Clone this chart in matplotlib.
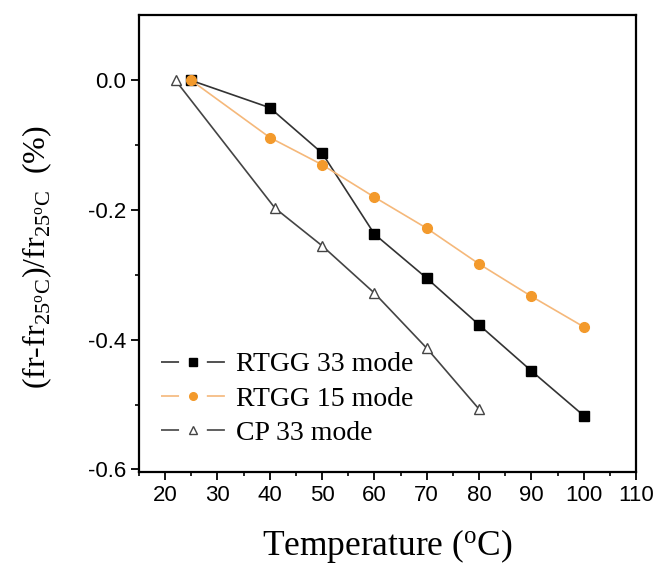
import numpy as np
import matplotlib.pyplot as plt
from matplotlib.lines import Line2D

plt.rcParams["font.family"] = "Liberation Sans"
plt.rcParams["mathtext.fontset"] = "custom"
plt.rcParams["mathtext.rm"] = "Liberation Serif"
plt.rcParams["lines.scale_dashes"] = False

# data
t_rtgg33 = [25, 40, 50, 60, 70, 80, 90, 100]
d_rtgg33 = [0.0, -0.042, -0.112, -0.237, -0.305, -0.377, -0.448, -0.517]
t_rtgg15 = [25, 40, 50, 60, 70, 80, 90, 100]
d_rtgg15 = [0.0, -0.088, -0.130, -0.180, -0.228, -0.283, -0.333, -0.380]
t_cp33 = [22, 41, 50, 60, 70, 80]
d_cp33 = [0.0, -0.197, -0.255, -0.328, -0.413, -0.507]

labels = ["RTGG 33 mode", "RTGG 15 mode", "CP 33 mode"]
xticks = np.arange(20, 111, 10)
yticks = [0.0, -0.2, -0.4, -0.6]

fig = plt.figure(figsize=(6.7, 5.66), dpi=100)
ax = fig.add_axes([139 / 670, 1 - 472 / 566, (636 - 139) / 670, (472 - 15) / 566])

styles = [
    dict(color="#333333", marker="s", mfc="black", mec="black"),
    dict(color="#f5b87a", marker="o", mfc="#f39a2c", mec="#f39a2c"),
    dict(color="#444444", marker="^", mfc="white", mec="#444444"),
]
series = [(t_rtgg33, d_rtgg33), (t_rtgg15, d_rtgg15), (t_cp33, d_cp33)]
for (t, d), st in zip(series, styles):
    ax.plot(t, d, lw=1.2, ms=7, **st)

# legend handles: line - gap - marker - gap - line
proxies = [Line2D([], [], lw=1.2, ms=5.5, dashes=(13, 20, 13, 20), **st)
           for st in styles]
ax.legend(proxies, labels, loc="lower left", bbox_to_anchor=(0.045, 0.057),
          frameon=False, prop={"family": "Liberation Serif", "size": 20},
          handlelength=2.3, handletextpad=0.4, labelspacing=0.32,
          borderaxespad=0, borderpad=0)

ax.set_xlim(15, 110)
ax.set_ylim(-0.604, 0.101)
ax.set_xticks(xticks)
ax.set_yticks(yticks)
ax.set_yticklabels(["%.1f" % v for v in yticks])
ax.set_xticks(np.arange(15, 111, 5), minor=True)
ax.set_yticks(np.arange(-0.6, 0.05, 0.1), minor=True)
ax.tick_params(which="major", direction="out", length=6, width=1.3, labelsize=16)
ax.tick_params(which="minor", direction="out", length=3, width=1.2)
for s in ax.spines.values():
    s.set_linewidth(1.6)

ax.set_xlabel(r"Temperature ($\mathregular{^oC}$)", family="Liberation Serif",
              fontsize=25.5, labelpad=15)
ax.set_ylabel(r"(fr-fr$_{\mathregular{25^oC}}$)/fr$_{\mathregular{25^oC}}$  (%)",
              family="Liberation Serif", fontsize=23)
ax.yaxis.set_label_coords(-0.172, 0.47)

fig.savefig("out.png", dpi=100)
